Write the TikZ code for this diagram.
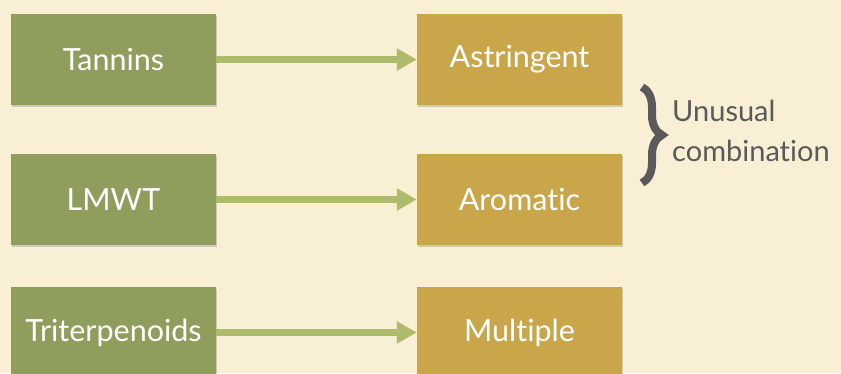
\documentclass[tikz,border=0pt]{standalone}
\usepackage{fontspec}
\setmainfont{Lato}[Ligatures={NoCommon,NoRare}]
\usetikzlibrary{arrows.meta,shadows,decorations.pathreplacing}
\definecolor{bgcol}{HTML}{F8EFD4}
\definecolor{greenbox}{HTML}{8F9E5C}
\definecolor{goldbox}{HTML}{C9A64A}
\definecolor{arrowcol}{HTML}{AEBB6A}
\definecolor{graytext}{HTML}{5A5A5A}
\tikzset{
  srcbox/.style={fill=greenbox, minimum width=205pt, minimum height=91pt, inner sep=0pt,
    text=white, font=\fontsize{30.5}{34}\selectfont,
    drop shadow={opacity=0.35, shadow xshift=1.2pt, shadow yshift=-1.5pt}},
  dstbox/.style={srcbox, fill=goldbox},
  link/.style={draw=arrowcol, line width=7pt, -{Triangle[length=20pt,width=21pt]}},
}
\begin{document}
\begin{tikzpicture}[x=1pt,y=-1pt]
  \fill[bgcol] (0,0) rectangle (841,373);
  \useasboundingbox (0,0) rectangle (841,373);
  \clip (0,0) rectangle (841,373);
  \node[srcbox] (tan) at (113.5,59.5) {Tannins};
  \node[srcbox] (lmwt) at (113.5,199.5) {LMWT};
  \node[srcbox] (tri) at (113.5,332.5) {Triterpenoids};
  \node[dstbox] (ast) at (519.5,59.5) {Astringent};
  \node[dstbox] (aro) at (519.5,199.5) {Aromatic};
  \node[dstbox] (mul) at (519.5,332.5) {Multiple};
  \draw[link] (tan.east) -- (ast.west);
  \draw[link] (lmwt.east) -- (aro.west);
  \draw[link] (tri.east) -- (mul.west);
  \coordinate (bt) at (642,87);
  \coordinate (bb) at (642,183);
  \draw[graytext, line width=8pt, decorate,
        decoration={brace, amplitude=20pt, aspect=0.5}] (bt) -- (bb);
  \node[anchor=west, text=graytext, align=left, inner sep=0pt,
        font=\fontsize{29}{40}\selectfont] (lbl) at (672,131) {Unusual\\combination};
\end{tikzpicture}
\end{document}
